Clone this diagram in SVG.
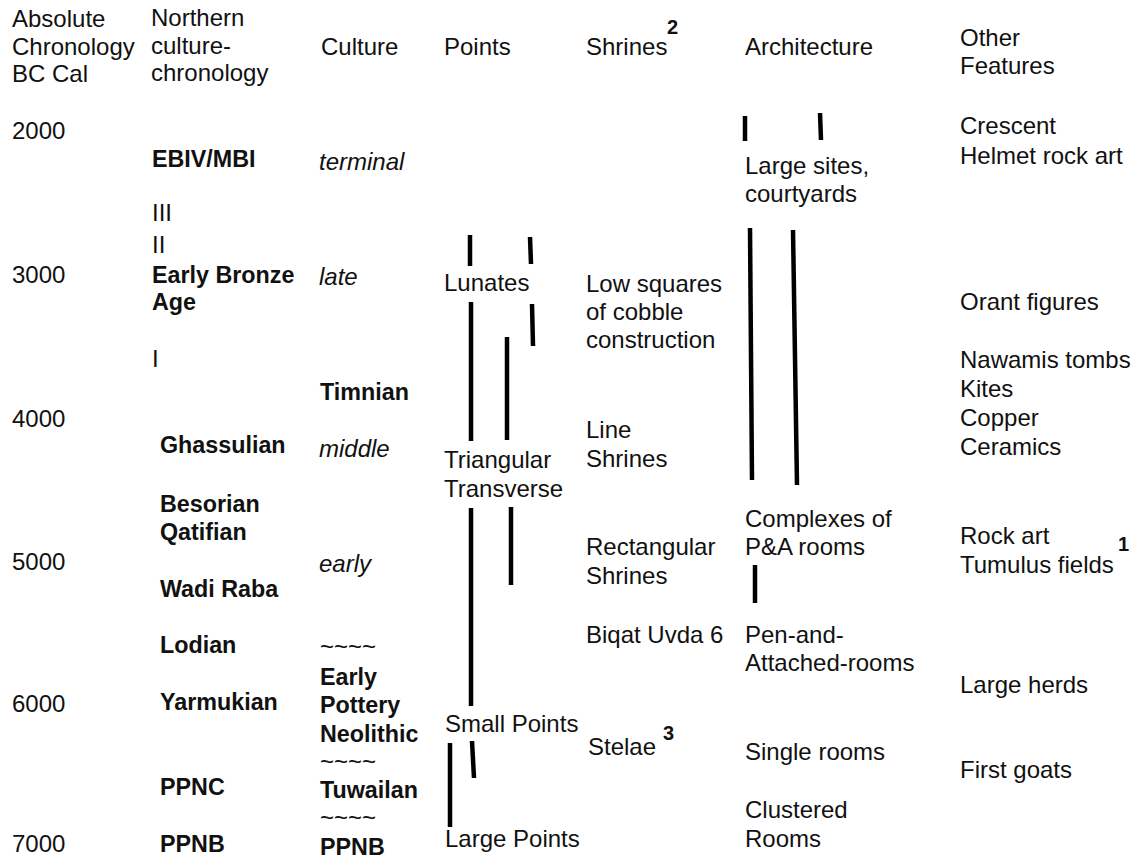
<svg xmlns="http://www.w3.org/2000/svg" width="1139" height="860" viewBox="0 0 1139 860">
<style>
text{font-family:"Liberation Sans",Arial,sans-serif;font-size:24px;fill:#111}
.b{font-weight:bold;font-size:23.3px}
.i{font-style:italic}
.sup{font-weight:bold;font-size:20px}
.bar{stroke:#000;stroke-width:4.5;fill:none}
</style>
<rect width="1139" height="860" fill="#fff"/>
<g id="header">
<text x="12" y="27">Absolute</text>
<text x="12" y="55">Chronology</text>
<text x="12" y="82">BC Cal</text>
<text x="151" y="26">Northern</text>
<text x="151" y="54">culture-</text>
<text x="151" y="81">chronology</text>
<text x="321" y="55">Culture</text>
<text x="444" y="55">Points</text>
<text x="586" y="55">Shrines</text>
<text class="sup" x="667" y="34">2</text>
<text x="745" y="55">Architecture</text>
<text x="960" y="46">Other</text>
<text x="960" y="74">Features</text>
</g>
<g id="col-absolute">
<text x="12" y="139">2000</text>
<text x="12" y="283">3000</text>
<text x="12" y="427">4000</text>
<text x="12" y="570">5000</text>
<text x="12" y="712">6000</text>
<text x="12" y="852">7000</text>
</g>
<g id="col-northern">
<text class="b" x="152" y="167">EBIV/MBI</text>
<text x="152" y="221">III</text>
<text x="152" y="253">II</text>
<text class="b" x="152" y="283">Early Bronze</text>
<text class="b" x="152" y="310">Age</text>
<text x="152" y="367">I</text>
<text class="b" x="160" y="453">Ghassulian</text>
<text class="b" x="160" y="512">Besorian</text>
<text class="b" x="160" y="540">Qatifian</text>
<text class="b" x="160" y="597">Wadi Raba</text>
<text class="b" x="160" y="653">Lodian</text>
<text class="b" x="160" y="710">Yarmukian</text>
<text class="b" x="160" y="795">PPNC</text>
<text class="b" x="160" y="852">PPNB</text>
</g>
<g id="col-culture">
<text class="i" x="319" y="170">terminal</text>
<text class="i" x="319" y="285">late</text>
<text class="b" x="320" y="400">Timnian</text>
<text class="i" x="319" y="457">middle</text>
<text class="i" x="319" y="572">early</text>
<text x="320" y="655">~~~~</text>
<text class="b" x="320" y="685">Early</text>
<text class="b" x="320" y="713">Pottery</text>
<text class="b" x="320" y="742">Neolithic</text>
<text x="320" y="770">~~~~</text>
<text class="b" x="320" y="798">Tuwailan</text>
<text x="320" y="826">~~~~</text>
<text class="b" x="320" y="855">PPNB</text>
</g>
<g id="col-points">
<text x="444" y="291">Lunates</text>
<text x="444" y="468">Triangular</text>
<text x="444" y="497">Transverse</text>
<text x="445" y="732">Small Points</text>
<text x="445" y="847">Large Points</text>
</g>
<g id="col-shrines">
<text x="586" y="292">Low squares</text>
<text x="586" y="320">of cobble</text>
<text x="586" y="348">construction</text>
<text x="586" y="438">Line</text>
<text x="586" y="467">Shrines</text>
<text x="586" y="555">Rectangular</text>
<text x="586" y="584">Shrines</text>
<text x="586" y="643">Biqat Uvda 6</text>
<text x="588" y="755">Stelae</text>
<text class="sup" x="663" y="740">3</text>
</g>
<g id="col-architecture">
<text x="745" y="174">Large sites,</text>
<text x="745" y="202">courtyards</text>
<text x="745" y="527">Complexes of</text>
<text x="745" y="555">P&amp;A rooms</text>
<text x="745" y="643">Pen-and-</text>
<text x="745" y="671">Attached-rooms</text>
<text x="745" y="760">Single rooms</text>
<text x="745" y="818">Clustered</text>
<text x="745" y="847">Rooms</text>
</g>
<g id="col-other">
<text x="960" y="134">Crescent</text>
<text x="960" y="164">Helmet rock art</text>
<text x="960" y="310">Orant figures</text>
<text x="960" y="368">Nawamis tombs</text>
<text x="960" y="397">Kites</text>
<text x="960" y="426">Copper</text>
<text x="960" y="455">Ceramics</text>
<text x="960" y="544">Rock art</text>
<text x="960" y="573">Tumulus fields</text>
<text class="sup" x="1118" y="551">1</text>
<text x="960" y="693">Large herds</text>
<text x="960" y="778">First goats</text>
</g>
<g id="connectors">
<line class="bar" x1="470" y1="235" x2="470" y2="266"/>
<line class="bar" x1="530" y1="237" x2="531" y2="264"/>
<line class="bar" x1="471" y1="302" x2="471" y2="441"/>
<line class="bar" x1="532" y1="304" x2="533" y2="346"/>
<line class="bar" x1="507" y1="337" x2="507" y2="440"/>
<line class="bar" x1="471" y1="508" x2="471" y2="706"/>
<line class="bar" x1="511" y1="507" x2="511" y2="585"/>
<line class="bar" x1="450" y1="743" x2="450" y2="827"/>
<line class="bar" x1="472" y1="741" x2="474" y2="778"/>
<line class="bar" x1="745" y1="116" x2="745" y2="141"/>
<line class="bar" x1="820" y1="113" x2="821" y2="140"/>
<line class="bar" x1="750" y1="228" x2="752" y2="480"/>
<line class="bar" x1="793" y1="230" x2="797" y2="485"/>
<line class="bar" x1="755" y1="565" x2="755" y2="603"/>
</g>
</svg>
